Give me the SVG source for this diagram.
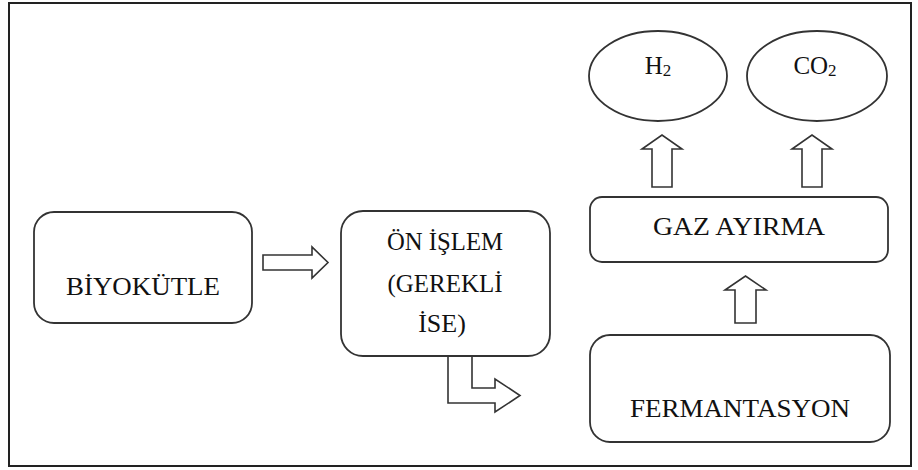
<svg xmlns="http://www.w3.org/2000/svg" width="918" height="470" viewBox="0 0 918 470">
<style>
.box{fill:#fff;stroke:#333;stroke-width:1.8}
.arr{fill:#fff;stroke:#333;stroke-width:1.6;stroke-linejoin:miter}
.t{font-family:"Liberation Serif","Times New Roman",serif;font-size:26px;fill:#111;text-anchor:middle}
.e{font-size:25px}
.s{font-size:17px}
</style>
<rect x="9" y="3" width="902" height="463" fill="#fff" stroke="#222" stroke-width="2"/>
<g id="biyokutle">
<rect class="box" x="34" y="212" width="218" height="111" rx="20"/>
<text class="t" x="143" y="295" textLength="154" lengthAdjust="spacingAndGlyphs">BİYOKÜTLE</text>
</g>
<g id="on-islem">
<rect class="box" x="341" y="211" width="209" height="145" rx="22"/>
<text class="t" x="445" y="250" textLength="116" lengthAdjust="spacingAndGlyphs">ÖN İŞLEM</text>
<text class="t" x="445" y="292" textLength="115" lengthAdjust="spacingAndGlyphs">(GEREKLİ</text>
<text class="t" x="442" y="332">İSE)</text>
</g>
<g id="gaz-ayirma">
<rect class="box" x="590" y="197" width="298" height="65" rx="12"/>
<text class="t" x="739" y="235" textLength="172" lengthAdjust="spacingAndGlyphs">GAZ AYIRMA</text>
</g>
<g id="fermantasyon">
<rect class="box" x="590" y="335" width="300" height="107" rx="20"/>
<text class="t" x="740" y="417" textLength="220" lengthAdjust="spacingAndGlyphs">FERMANTASYON</text>
</g>
<g id="h2">
<ellipse class="box" cx="658" cy="76" rx="69" ry="45"/>
<text class="t e" x="658" y="74">H<tspan class="s" dy="2">2</tspan></text>
</g>
<g id="co2">
<ellipse class="box" cx="817" cy="76" rx="70" ry="45"/>
<text class="t e" x="815" y="74">CO<tspan class="s" dy="2">2</tspan></text>
</g>
<g id="connectors">
<path class="arr" d="M263,255 H312 V247 L328,262.5 L312,278 V270 H263 Z"/>
<path class="arr" d="M448,357 V403 H495 V412 L520,395.5 L495,379 V388 H472 V357"/>
<path class="arr" d="M652,187 V149 H642 L662,135 L682,149 H672 V187 Z"/>
<path class="arr" d="M802,187 V149 H792 L812,135 L832,149 H822 V187 Z"/>
<path class="arr" d="M735,323 V290 H725 L745.5,276 L766,290 H756 V323 Z"/>
</g>
</svg>
